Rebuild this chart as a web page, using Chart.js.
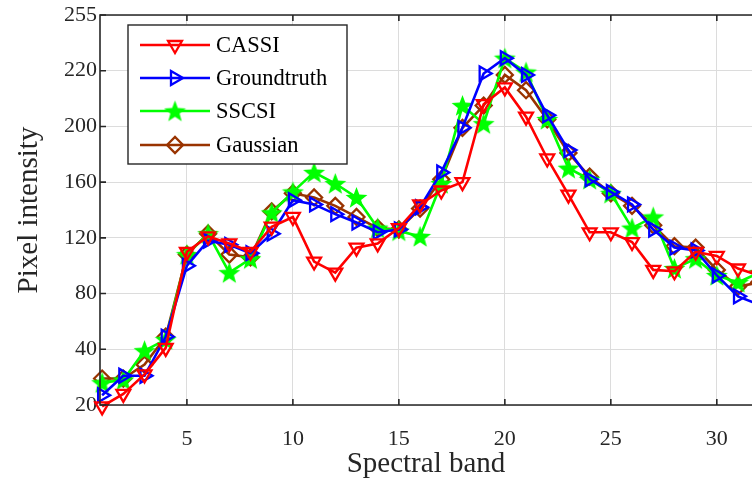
<!DOCTYPE html>
<html lang="en">
<head>
  <meta charset="UTF-8" />
  <title>Spectral band intensity</title>
  <script src="https://cdn.jsdelivr.net/npm/chart.js"></script>
  <style>
    body {
      margin: 0;
      background: #fff;
    }
    #wrap {
      width: 752px;
      height: 485px;
    }
  </style>
</head>
<body>
  <div id="wrap"><canvas id="lineChart" width="752" height="485"></canvas></div>

  <script>
    // spectral bands 1..32
    const bands = [1, 2, 3, 4, 5, 6, 7, 8, 9, 10, 11, 12, 13, 14, 15, 16,
                   17, 18, 19, 20, 21, 22, 23, 24, 25, 26, 27, 28, 29, 30, 31, 32];

    const cassi = [-1, 8, 22, 41, 110, 121, 116, 110, 128, 135, 103, 95, 113, 116, 127, 144,
                   154, 160, 216, 228, 207, 177, 151, 124, 124, 117, 97, 96, 110, 107, 98, 93];
    const groundtruth = [7, 21, 21, 49, 100, 118, 115, 109, 123, 147, 144, 137, 131, 124, 126, 142,
                         167, 199, 238, 249, 237, 208, 183, 162, 153, 144, 126, 113, 111, 93, 78, 72];
    const sscsi = [16, 18, 39, 47, 108, 123, 95, 105, 138, 153, 167, 159, 149, 127, 125, 121,
                   159, 215, 202, 249, 239, 205, 170, 162, 152, 127, 135, 98, 105, 93, 88, 95];
    const gaussian = [19, 19, 29, 49, 108, 123, 108, 106, 139, 152, 149, 143, 135, 127, 126, 141,
                      162, 199, 215, 237, 226, 205, 181, 164, 152, 143, 129, 114, 113, 97, 85, 88];

    // y tick labels as printed on the axis (one per 40 units)
    const yTickLabels = ["20", "40", "80", "120", "160", "200", "220", "255"];
    const xTicks = [5, 10, 15, 20, 25, 30];

    const FONT = "'Liberation Serif', 'Times New Roman', serif";
    const AXIS = "#262626";

    // filled five point star for SSCSI
    function makeStar(color, size) {
      const c = document.createElement("canvas");
      c.width = size;
      c.height = size;
      const g = c.getContext("2d");
      const cx = size / 2, cy = size / 2 + 1;
      const ro = size / 2, ri = ro * 0.42;
      g.beginPath();
      for (let i = 0; i < 10; i++) {
        const r = i % 2 === 0 ? ro : ri;
        const a = -Math.PI / 2 + i * Math.PI / 5;
        const px = cx + r * Math.cos(a), py = cy + r * Math.sin(a);
        if (i === 0) g.moveTo(px, py); else g.lineTo(px, py);
      }
      g.closePath();
      g.fillStyle = color;
      g.fill();
      return c;
    }
    const starImg = makeStar("#00ff00", 23);

    function series(label, data, color, style, rotation) {
      return {
        label: label,
        data: data.map((v, i) => ({ x: bands[i], y: v })),
        borderColor: color,
        backgroundColor: "rgba(0,0,0,0)",
        borderWidth: 2.6,
        pointStyle: style,
        pointRotation: rotation,
        pointRadius: 8,
        pointBorderWidth: 2.3,
        pointBorderColor: color,
        pointBackgroundColor: "rgba(0,0,0,0)",
        tension: 0,
        clip: false
      };
    }

    // MATLAB-like frame, inward ticks and legend box
    const framePlugin = {
      id: "frame",
      afterDraw(chart) {
        const ctx = chart.ctx;
        const a = chart.chartArea;
        const xs = chart.scales.x, ys = chart.scales.y;
        ctx.save();
        ctx.strokeStyle = AXIS;
        ctx.lineWidth = 1.6;
        ctx.beginPath();
        ctx.moveTo(chart.width, a.top);
        ctx.lineTo(a.left, a.top);
        ctx.lineTo(a.left, a.bottom);
        ctx.lineTo(chart.width, a.bottom);
        ctx.stroke();
        ctx.beginPath();
        xTicks.forEach(t => {
          const px = xs.getPixelForValue(t);
          ctx.moveTo(px, a.bottom);
          ctx.lineTo(px, a.bottom - 6);
          ctx.moveTo(px, a.top);
          ctx.lineTo(px, a.top + 6);
        });
        ys.ticks.forEach(t => {
          const py = ys.getPixelForValue(t.value);
          ctx.moveTo(a.left, py);
          ctx.lineTo(a.left + 6, py);
        });
        ctx.stroke();

        // legend
        const box = { l: 128, t: 25, r: 347, b: 164 };
        ctx.fillStyle = "#fff";
        ctx.fillRect(box.l, box.t, box.r - box.l, box.b - box.t);
        ctx.lineWidth = 1.4;
        ctx.strokeStyle = AXIS;
        ctx.strokeRect(box.l, box.t, box.r - box.l, box.b - box.t);
        const rows = [45, 78, 111, 145];
        chart.data.datasets.forEach((ds, i) => {
          const y = rows[i];
          ctx.strokeStyle = ds.borderColor;
          ctx.lineWidth = ds.borderWidth;
          ctx.beginPath();
          ctx.moveTo(140, y);
          ctx.lineTo(210, y);
          ctx.stroke();
          ctx.lineWidth = ds.pointBorderWidth;
          ctx.fillStyle = ds.pointBackgroundColor;
          Chart.helpers.drawPoint(ctx, {
            pointStyle: ds.pointStyle,
            rotation: ds.pointRotation,
            radius: ds.pointRadius,
            borderWidth: ds.pointBorderWidth
          }, 175, y);
          ctx.fillStyle = "#000";
          ctx.font = "22.5px " + FONT;
          ctx.textBaseline = "middle";
          ctx.textAlign = "left";
          ctx.fillText(ds.label, 216, y + 1);
        });
        ctx.restore();
      }
    };

    const ctx = document.getElementById("lineChart").getContext("2d");

    new Chart(ctx, {
      type: "line",
      data: {
        datasets: [
          series("CASSI", cassi, "#ff0000", "triangle", 180),
          series("Groundtruth", groundtruth, "#0000ff", "triangle", 90),
          series("SSCSI", sscsi, "#00ff00", starImg, 0),
          series("Gaussian", gaussian, "#993300", "rectRot", 0)
        ]
      },
      options: {
        responsive: false,
        animation: false,
        layout: {
          autoPadding: false,
          padding: { top: 15, right: 0, left: 0, bottom: 0 }
        },
        plugins: {
          legend: { display: false },
          tooltip: { enabled: false }
        },
        scales: {
          x: {
            type: "linear",
            min: 0.9,
            max: 31.66,
            afterBuildTicks(scale) {
              scale.ticks = xTicks.map(v => ({ value: v }));
            },
            afterFit(scale) {
              scale.height = 80;
              scale.paddingLeft = 0;
              scale.paddingRight = 0;
            },
            grid: { color: "#dcdcdc", lineWidth: 1, drawTicks: false },
            border: { display: false },
            ticks: {
              color: "#262626",
              font: { family: FONT, size: 22 },
              padding: 21,
              maxRotation: 0
            },
            title: {
              display: true,
              text: "Spectral band",
              color: "#262626",
              font: { family: FONT, size: 29 },
              padding: { top: 0, bottom: 3 }
            }
          },
          y: {
            min: 0,
            max: 280,
            afterBuildTicks(scale) {
              scale.ticks = yTickLabels.map((_, i) => ({ value: i * 40 }));
            },
            afterFit(scale) {
              scale.width = 100;
              scale.paddingTop = 0;
              scale.paddingBottom = 0;
            },
            grid: { color: "#dcdcdc", lineWidth: 1, drawTicks: false },
            border: { display: false },
            ticks: {
              color: "#262626",
              font: { family: FONT, size: 22 },
              padding: 3,
              callback: (v, i) => yTickLabels[i]
            },
            title: {
              display: true,
              text: "Pixel intensity",
              color: "#262626",
              font: { family: FONT, size: 29 },
              padding: { top: 12, bottom: 0 }
            }
          }
        }
      },
      plugins: [framePlugin]
    });
  </script>
</body>
</html>
